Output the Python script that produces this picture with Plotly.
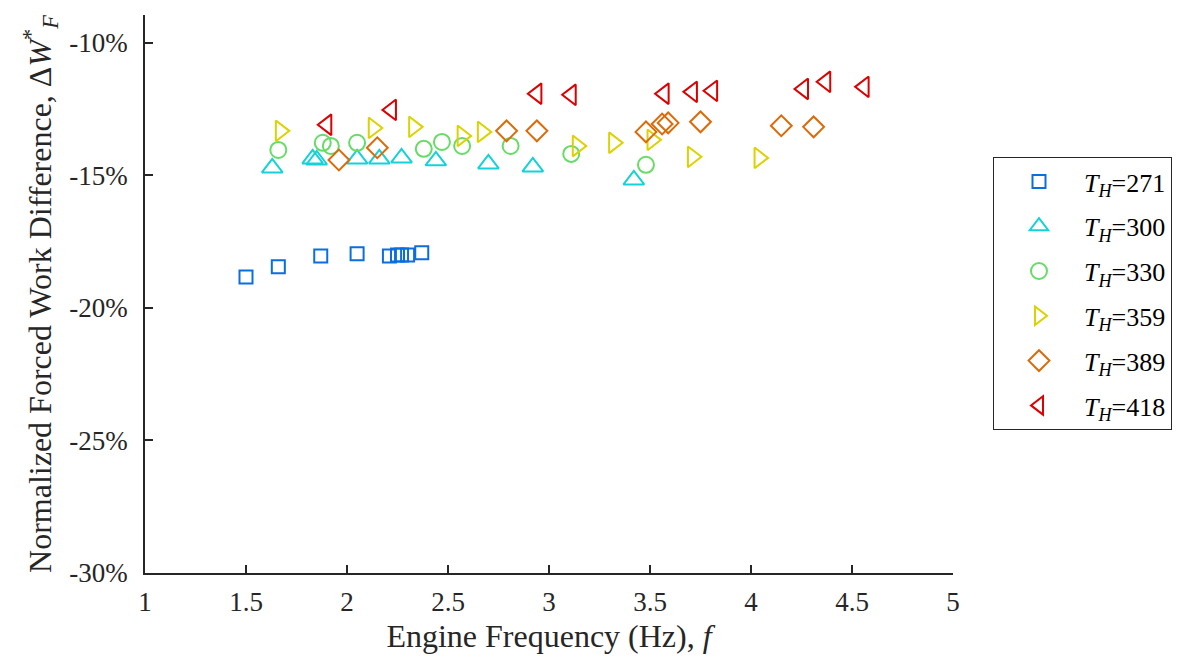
import plotly.graph_objects as go

# Engine frequency (Hz) and normalized forced work difference (%) per hot-side temperature T_H
f_271 = [1.50, 1.66, 1.87, 2.05, 2.21, 2.25, 2.27, 2.30, 2.37]
dw_271 = [-18.83, -18.45, -18.04, -17.96, -18.04, -18.00, -18.00, -18.00, -17.92]

f_300 = [1.63, 1.83, 1.85, 2.05, 2.16, 2.27, 2.44, 2.70, 2.92, 3.42]
dw_300 = [-14.72, -14.38, -14.42, -14.38, -14.38, -14.34, -14.45, -14.57, -14.68, -15.17]

f_330 = [1.66, 1.88, 1.92, 2.05, 2.38, 2.47, 2.57, 2.81, 3.11, 3.48]
dw_330 = [-14.04, -13.77, -13.89, -13.77, -14.00, -13.74, -13.89, -13.89, -14.19, -14.60]

f_359 = [1.67, 2.13, 2.33, 2.57, 2.67, 3.14, 3.32, 3.51, 3.71, 4.04]
dw_359 = [-13.32, -13.21, -13.17, -13.51, -13.36, -13.89, -13.77, -13.66, -14.30, -14.34]

f_389 = [1.96, 2.15, 2.79, 2.94, 3.48, 3.56, 3.59, 3.75, 4.15, 4.31]
dw_389 = [-14.42, -13.96, -13.32, -13.32, -13.36, -13.06, -13.02, -12.98, -13.13, -13.17]

f_418 = [1.90, 2.22, 2.94, 3.11, 3.57, 3.71, 3.81, 4.26, 4.37, 4.56]
dw_418 = [-13.09, -12.53, -11.92, -11.96, -11.92, -11.85, -11.81, -11.74, -11.47, -11.66]

temps = ["271", "300", "330", "359", "389", "418"]
freqs = [f_271, f_300, f_330, f_359, f_389, f_418]
diffs = [dw_271, dw_300, dw_330, dw_359, dw_389, dw_418]

colors = ["#0a6ee0", "#14d2d8", "#66dc66", "#dcd200", "#dc6a08", "#dc0000"]
symbols = ["square-open", "triangle-up-open", "circle-open", "triangle-right-open",
           "diamond-open", "triangle-left-open"]
sizes = [13, 18, 16, 18, 16, 18]

SERIF = "Liberation Serif, Times New Roman, serif"
AX = "#262626"

fig = go.Figure()
for t, x, y, c, s, sz in zip(temps, freqs, diffs, colors, symbols, sizes):
    fig.add_trace(go.Scatter(
        x=x, y=y, mode="markers",
        name=f"<i>T</i><sub><i>H</i></sub>={t}",
        legendgroup=t,
        marker=dict(symbol=s, size=sz, color=c, line=dict(color=c, width=2)),
    ))

fig.update_layout(
    width=1186, height=665,
    margin=dict(l=145, r=233, t=15, b=92, autoexpand=False),
    paper_bgcolor="white", plot_bgcolor="white",
    font=dict(family=SERIF, color=AX, size=27),
    showlegend=True,
    legend=dict(
        x=1.0495, y=0.7455, xanchor="left", yanchor="top",
        bordercolor=AX, borderwidth=1, bgcolor="white",
        font=dict(family=SERIF, size=26, color="black"),
        tracegroupgap=8, itemwidth=80,
    ),
    xaxis=dict(
        range=[1, 5], tickvals=[1, 1.5, 2, 2.5, 3, 3.5, 4, 4.5, 5],
        ticktext=["1", "1.5", "2", "2.5", "3", "3.5", "4", "4.5", "5"],
        showline=True, linecolor=AX, linewidth=1.5, mirror=False,
        ticks="inside", ticklen=8, tickwidth=1.5, tickcolor=AX,
        showgrid=False, zeroline=False, ticklabelstandoff=4,
        tickfont=dict(family=SERIF, size=27, color=AX),
        title=dict(text="Engine Frequency (Hz), <i>f</i>",
                   font=dict(family=SERIF, size=32, color=AX), standoff=8),
    ),
    yaxis=dict(
        range=[-30, -8.95], tickvals=[-30, -25, -20, -15, -10],
        ticktext=["-30%", "-25%", "-20%", "-15%", "-10%"],
        showline=True, linecolor=AX, linewidth=1.5, mirror=False,
        ticks="inside", ticklen=8, tickwidth=1.5, tickcolor=AX,
        showgrid=False, zeroline=False, ticklabelstandoff=10,
        tickfont=dict(family=SERIF, size=27, color=AX),
        title=dict(text="Normalized Forced Work Difference, Δ<i>W</i><sup>*</sup><sub><i>F</i></sub>",
                   font=dict(family=SERIF, size=32, color=AX), standoff=8),
    ),
)

fig.write_html("out.html")
